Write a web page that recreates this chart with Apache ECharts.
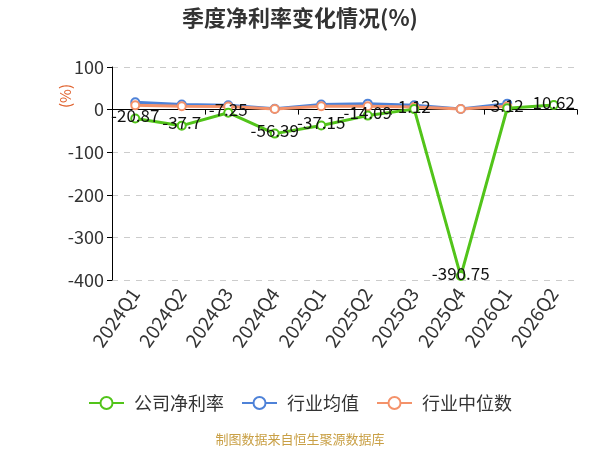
<!DOCTYPE html>
<html>
<head>
<meta charset="utf-8">
<script src="https://cdn.jsdelivr.net/npm/echarts@6/dist/echarts.min.js"></script>
<style>
  html, body { margin: 0; padding: 0; background: #fff; }
  #main { width: 600px; height: 450px; }
</style>
</head>
<body>
<div id="main"></div>
<script>
// 季度
var quarters = ['2024Q1', '2024Q2', '2024Q3', '2024Q4', '2025Q1', '2025Q2', '2025Q3', '2025Q4', '2026Q1', '2026Q2'];
// 公司净利率
var companyRate = [-20.87, -37.7, -7.25, -56.39, -37.15, -14.09, 1.12, -390.75, 3.12, 10.62];
// 行业均值 / 行业中位数 (2026Q2 无数据)
var industryAvg = [17, 12, 10, 2, 12, 14, 10, 1.5, 14, null];
var industryMedian = [10, 8, 7, 1.5, 8, 8, 6, 1.5, 8, null];
var yTicks = { min: -400, max: 100, interval: 100 };

var font = '"Noto Sans CJK SC", "Noto Sans", sans-serif';

var myChart = echarts.init(document.getElementById('main'));
var option = {
    animation: false,
    textStyle: { fontFamily: font },
    title: {
        text: '季度净利率变化情况(%)',
        left: 'center',
        top: 2,
        textStyle: { fontSize: 22, fontWeight: 'bold', color: '#333', fontFamily: font }
    },
    grid: { left: 112, right: 23, top: 67, bottom: 170 },
    legend: {
        bottom: 33,
        left: 'center',
        itemWidth: 35,
        itemHeight: 15,
        itemGap: 17,
        textStyle: { fontSize: 18, color: '#333', fontFamily: font, padding: [0, 0, 0, 5] },
        data: ['公司净利率', '行业均值', '行业中位数']
    },
    xAxis: [
        {
            // 零轴
            type: 'category',
            data: quarters,
            axisLine: { onZero: true, lineStyle: { color: '#000' } },
            axisTick: { show: true, length: 5, lineStyle: { color: '#000' } },
            axisLabel: { show: false }
        },
        {
            // 底部标签
            type: 'category',
            data: quarters,
            position: 'bottom',
            axisLine: { show: false, onZero: false },
            axisTick: { show: false },
            axisLabel: { rotate: 55, fontSize: 19, color: '#333', margin: 10, fontFamily: font }
        }
    ],
    yAxis: {
        type: 'value',
        min: yTicks.min,
        max: yTicks.max,
        interval: yTicks.interval,
        axisLine: { show: true, lineStyle: { color: '#000' } },
        axisTick: { show: true, length: 5, lineStyle: { color: '#000' } },
        axisLabel: { fontSize: 18, color: '#333', margin: 8, fontFamily: font },
        splitLine: { lineStyle: { type: [6, 6], color: '#ccc' } }
    },
    graphic: [
        {
            type: 'text',
            left: 58,
            top: 84,
            rotation: Math.PI / 2,
            style: { text: '(%)', fill: '#e0622e', fontSize: 15, fontFamily: font }
        },
        {
            type: 'text',
            left: 'center',
            top: 433,
            style: { text: '制图数据来自恒生聚源数据库', fill: '#c9a046', fontSize: 13, fontFamily: font }
        }
    ],
    series: [
        {
            name: '行业均值',
            type: 'line',
            data: industryAvg,
            symbol: 'emptyCircle',
            symbolSize: 8,
            itemStyle: { color: '#4e82d8' },
            lineStyle: { width: 3 }
        },
        {
            name: '行业中位数',
            type: 'line',
            data: industryMedian,
            symbol: 'emptyCircle',
            symbolSize: 8,
            itemStyle: { color: '#f4926a' },
            lineStyle: { width: 3 }
        },
        {
            name: '公司净利率',
            type: 'line',
            data: companyRate,
            symbol: 'emptyCircle',
            symbolSize: 8,
            itemStyle: { color: '#52c41a' },
            lineStyle: { width: 3 },
            z: 3,
            label: {
                show: true,
                position: 'inside',
                offset: [0, -3],
                fontSize: 17,
                color: '#111',
                fontFamily: font
            }
        }
    ]
};
myChart.setOption(option);
</script>
</body>
</html>
